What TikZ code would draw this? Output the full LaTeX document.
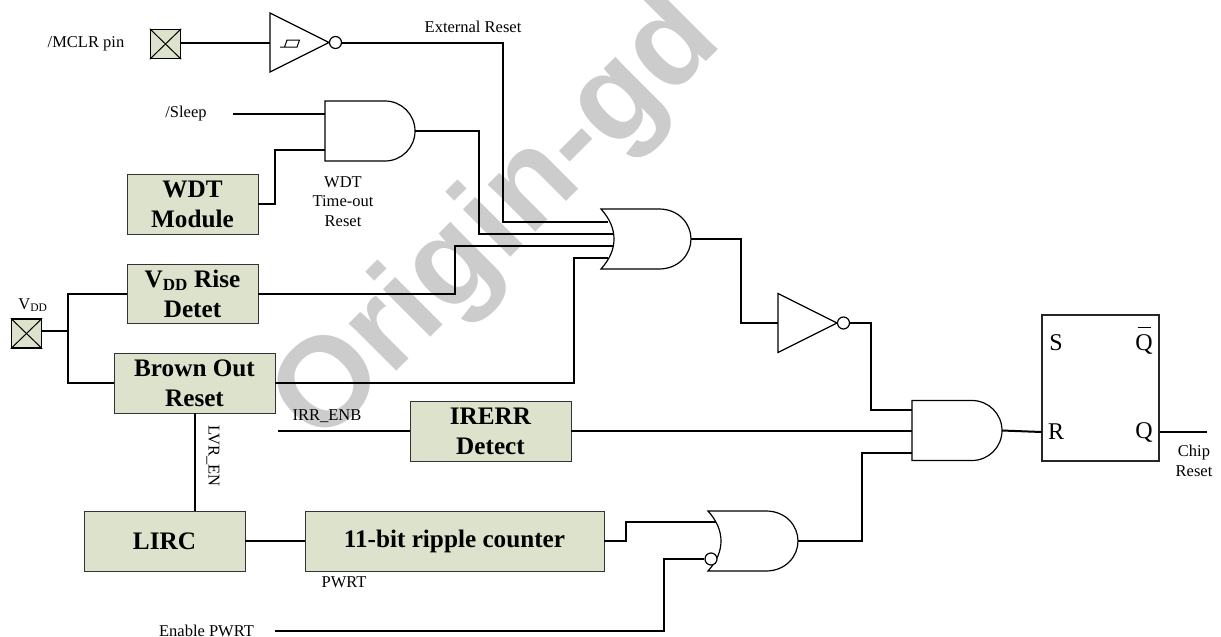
\documentclass[tikz,border=0pt]{standalone}
\usepackage{fontspec}
\setmainfont{Liberation Serif}
\newfontfamily\wmfont{Liberation Sans}
\definecolor{boxfill}{HTML}{DDE2CC}
\definecolor{wm}{HTML}{CCCCCC}
\newcommand{\fs}[2]{\fontsize{#1}{#2}\selectfont}
\tikzset{
  wire/.style={line width=2pt,line join=miter},
  gateline/.style={line width=1.2pt,fill=white,line join=miter},
  block/.style={draw=black!80,line width=0.9pt,fill=boxfill,inner sep=0pt,align=center,font=\fs{25.2}{30}\bfseries},
  lbl/.style={inner sep=0pt,align=center,font=\fs{16.5}{19.5}},
  ffl/.style={inner sep=0pt,font=\fs{24}{24}},
  pin/.style={draw=black,line width=1.5pt,fill=boxfill,minimum width=30pt,minimum height=29pt,inner sep=0pt},
  bubble/.style={circle,draw=black,line width=1.2pt,fill=white,minimum size=12pt,inner sep=0pt},
}
\newcommand{\andbody}[3]{%
  \draw[gateline] (#2,#3) -- ++(60,0) arc[start angle=-90,end angle=90,x radius=30,y radius=30] -- ++(-60,0) -- cycle;
  \coordinate (#1-o) at (#2+90,#3+30);
}
\newcommand{\orbody}[3]{%
  \draw[gateline] (#2,#3) -- ++(58,0) .. controls (#2+78,#3) and (#2+90,#3+15) .. (#2+90,#3+30)
     .. controls (#2+90,#3+45) and (#2+78,#3+60) .. (#2+58,#3+60) -- (#2,#3+60)
     .. controls (#2+9,#3+50) and (#2+13,#3+40) .. (#2+13,#3+30)
     .. controls (#2+13,#3+20) and (#2+9,#3+10) .. (#2,#3) -- cycle;
  \coordinate (#1-o) at (#2+90,#3+30);
}
\newcommand{\invbody}[3]{%
  \draw[gateline] (#2,#3) -- (#2,#3+59) -- (#2+59,#3+29.5) -- cycle;
  \node[bubble] (#1-b) at (#2+65.5,#3+29.5) {};
  \coordinate (#1-i) at (#2,#3+29.5);
}
\newcommand{\pinbox}[3]{%
  \node[pin] (#1) at (#2,#3) {};
  \draw[line width=1pt] (#1.north west) -- (#1.south east) (#1.north east) -- (#1.south west);
}
\begin{document}
\begin{tikzpicture}[x=1pt,y=-1pt]
\useasboundingbox (0,0) rectangle (1221,637);
\begin{scope}
\clip (0,0) rectangle (1221,637);
\node[rotate=45,anchor=base west,text=wm,inner sep=0pt,font=\wmfont\bfseries\fs{127}{127}] (mark) at (320,448) {Origin-gd};
\end{scope}
% blocks
\node[block,minimum width=131pt,minimum height=60pt] (wdt) at (192.5,204) {WDT\\Module};
\node[block,minimum width=131pt,minimum height=59pt] (vdd) at (192.5,293.5) {V\textsubscript{\fs{17}{17}DD} Rise\\Detet};
\node[block,minimum width=161pt,minimum height=60pt] (bor) at (194.5,383) {Brown Out\\Reset};
\node[block,minimum width=161pt,minimum height=60pt] (irerr) at (490.5,431) {IRERR\\Detect};
\node[block,minimum width=161pt,minimum height=60pt] (lirc) at (164.5,541) {LIRC};
\node[block,minimum width=299pt,minimum height=60pt] (ripple) at (454.5,541) {11-bit ripple counter};
\node[draw=black!85,line width=1.1pt,fill=white,minimum width=117pt,minimum height=146pt,inner sep=0pt] (ff) at (1100.5,388) {};
\node[ffl] (ffs) at (1056,343) {S};
\node[ffl] (ffqb) at (1144,344) {Q};
\coordinate (qbl) at (1137.5,327); \coordinate (qbr) at (1150.5,327);
\draw[line width=0.8pt] (qbl) -- (qbr);
\node[ffl] (ffr) at (1056,431.5) {R};
\node[ffl] (ffq) at (1144,432.5) {Q};
% pins
\pinbox{mclr}{165.5}{44}
\pinbox{vpin}{26.5}{333.5}
% gates
\invbody{schm}{270}{13}
\draw[line width=1pt] (280,47.2) -- (297,47.2) -- (299.5,40) -- (287,40) -- (284.5,47.2);
\invbody{inv}{778}{293.5}
\andbody{and1}{325}{101}
\orbody{or1}{601}{209}
\andbody{and2}{912}{400.5}
\orbody{or2}{708}{511}
\node[bubble] (orb) at (711,559) {};
% junctions
\coordinate (j1) at (503,42.5);
\coordinate (or1a) at (608,222);
\coordinate (or1b) at (614,234);
\coordinate (or1c) at (614,246);
\coordinate (or1d) at (608,258);
\coordinate (and1a) at (325,114);
\coordinate (and1b) at (325,150);
\coordinate (and2a) at (912,410);
\coordinate (and2b) at (912,431);
\coordinate (and2c) at (912,453);
\coordinate (or2a) at (716,522);
\coordinate (sleep) at (233,114);
\coordinate (irr) at (278,431);
\coordinate (en) at (275,631);
\coordinate (chip) at (1207,432);
\coordinate (vj) at (68,331);
% wires
\draw[wire] (mclr.east |- schm-i) -- (schm-i);
\draw[wire] (schm-b.east) -- (j1) |- (or1a);
\draw[wire] (sleep) -- (and1a);
\draw[wire] (wdt.east) -- (275,204) |- (and1b);
\draw[wire] (and1-o) -- (479,131) |- (or1b);
\draw[wire] (vdd.east) -- (455,293.5) |- (or1c);
\draw[wire] (bor.east) -- (574,383) |- (or1d);
\draw[wire] (or1-o) -- (741,239) |- (inv-i);
\draw[wire] (inv-b.east) -- (871,323) |- (and2a);
\draw[wire] (irr) -- (irerr.west);
\draw[wire] (irerr.east) -- (and2b);
\draw[wire] (and2-o) -- (ff.west |- chip);
\draw[wire] (ff.east |- chip) -- (chip);
\draw[wire] (vpin.east |- vj) -- (vj);
\draw[wire] (vdd.west) -| (vj);
\draw[wire] (bor.west) -| (vj);
\draw[wire] (bor.south) -- (bor.south |- lirc.north);
\draw[wire] (lirc.east) -- (ripple.west);
\draw[wire] (ripple.east) -- (626,541) |- (or2a);
\draw[wire] (en) -- (664,631) |- (orb.west);
\draw[wire] (or2-o) -- (862,541) |- (and2c);
% labels
\node[lbl] (t1) at (86,43.5) {/MCLR pin};
\node[lbl] (t2) at (473,26.5) {External Reset};
\node[lbl] (t3) at (186,114) {/Sleep};
\node[lbl] (t4) at (343,201.5) {WDT\\Time-out\\Reset};
\node[lbl] (t5) at (33,305) {V\textsubscript{DD}};
\node[lbl] (t6) at (327,416) {IRR\_ENB};
\node[lbl,rotate=-90] (t7) at (213,456) {LVR\_EN};
\node[lbl] (t8) at (344,582) {PWRT};
\node[lbl] (t9) at (206.5,631) {Enable PWRT};
\node[lbl] (t10) at (1194,461) {Chip\\Reset};
\end{tikzpicture}
\end{document}
